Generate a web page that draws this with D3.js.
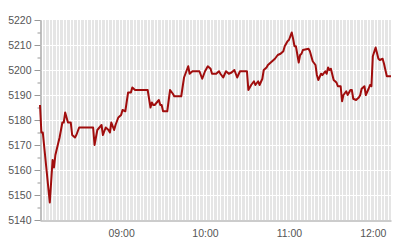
<!DOCTYPE html>
<html>
<head>
<meta charset="utf-8">
<script src="https://cdn.jsdelivr.net/npm/d3@7"></script>
<style>
    body { margin: 0; background: #fff; }
    .axis text { font-family: "Liberation Sans", Arial, sans-serif; font-size: 10.5px; fill: #555; }
    .axis path, .axis line { stroke: #999; }
</style>
</head>
<body>
<div id="main"></div>
<script>
const ctx = {
    SVG_W: 400,
    SVG_H: 240,
    LEFT: 40,
    RIGHT: 391,
    TOP: 20,
    BOTTOM: 220,
};

// index quote, intraday
const times = [
    "08:02", "08:03", "08:04", "08:09", "08:11", "08:12", "08:13", "08:16", "08:18", "08:19",
    "08:20", "08:22", "08:24", "08:25", "08:27", "08:28", "08:30", "08:40", "08:41", "08:42",
    "08:43", "08:46", "08:47", "08:49", "08:51", "08:52", "08:53", "08:55", "08:56", "08:58",
    "09:00", "09:01", "09:03", "09:05", "09:07", "09:08", "09:10", "09:19", "09:21", "09:22",
    "09:23", "09:24", "09:27", "09:28", "09:29", "09:30", "09:33", "09:35", "09:37", "09:38",
    "09:40", "09:43", "09:45", "09:48", "09:49", "09:51", "09:56", "09:58", "10:00", "10:02",
    "10:04", "10:05", "10:08", "10:10", "10:11", "10:13", "10:15", "10:17", "10:19", "10:21",
    "10:22", "10:23", "10:25", "10:30", "10:31", "10:33", "10:35", "10:36", "10:38", "10:39",
    "10:41", "10:42", "10:44", "10:45", "10:47", "10:49", "10:50", "10:52", "10:54", "10:56",
    "10:57", "10:59", "11:00", "11:02", "11:03", "11:04", "11:05", "11:07", "11:08", "11:09",
    "11:10", "11:14", "11:15", "11:17", "11:19", "11:20", "11:21", "11:23", "11:24", "11:26",
    "11:27", "11:28", "11:29", "11:30", "11:32", "11:34", "11:35", "11:37", "11:38", "11:39",
    "11:41", "11:42", "11:44", "11:45", "11:46", "11:48", "11:50", "11:51", "11:52", "11:54",
    "11:55", "11:57", "11:58", "11:59", "12:00", "12:02", "12:04", "12:05", "12:07", "12:08",
    "12:10", "12:13"
];
const values = [
    5186, 5175, 5175, 5147, 5164, 5161, 5166, 5173, 5179, 5179,
    5183, 5179, 5179, 5174, 5173, 5174, 5177, 5177, 5170, 5173,
    5176, 5178, 5174, 5177, 5176, 5175, 5179, 5176, 5178, 5181,
    5182, 5184, 5183.5, 5191, 5191, 5193, 5192, 5192, 5185, 5187,
    5186, 5186, 5188, 5186, 5186, 5183.5, 5183.5, 5192, 5190.5, 5189.5,
    5189.5, 5189.5, 5197, 5201.5, 5198.5, 5199.5, 5199.5, 5196.5, 5199.5, 5201.5,
    5200.5, 5198.5, 5198.5, 5199.5, 5198.5, 5197, 5199.5, 5198.5, 5199, 5200,
    5198.5, 5197, 5199.5, 5199.5, 5192, 5194, 5195.5, 5194, 5195.5, 5194,
    5196.5, 5200, 5201, 5202, 5203, 5204, 5204.5, 5206, 5206.5, 5207.5,
    5209.5, 5211.5, 5212, 5215, 5212.5, 5209.5, 5209.5, 5203, 5206, 5206.5,
    5208, 5208.5, 5207.5, 5203.5, 5202, 5198, 5196, 5198.5, 5198, 5199.5,
    5198.5, 5201, 5200, 5200.5, 5196, 5195, 5193.5, 5193.5, 5187.5, 5190,
    5191.5, 5190, 5192, 5192, 5188.5, 5188, 5189, 5190, 5192.5, 5193.5,
    5190, 5192.5, 5194, 5193.5, 5205.5, 5209, 5204.5, 5204, 5204.5, 5202.5,
    5197.5, 5197.5
];
const yMajor = [5140, 5150, 5160, 5170, 5180, 5190, 5200, 5210, 5220];
const yMinor = [5145, 5155, 5165, 5175, 5185, 5195, 5205, 5215];
const xTicks = ["09:00", "10:00", "11:00", "12:00"];
const xDomain = ["08:02", "12:13"];

function createViz() {
    const parse = d3.timeParse("%H:%M");
    let svgEl = d3.select("#main").append("svg")
        .attr("width", ctx.SVG_W)
        .attr("height", ctx.SVG_H);

    let x = d3.scaleTime()
        .domain(xDomain.map(parse))
        .range([ctx.LEFT, ctx.RIGHT]);
    let y = d3.scaleLinear()
        .domain([5140, 5220])
        .range([ctx.BOTTOM, ctx.TOP]);

    // plot background
    svgEl.append("rect")
        .attr("x", ctx.LEFT)
        .attr("y", ctx.TOP)
        .attr("width", ctx.RIGHT - ctx.LEFT)
        .attr("height", ctx.BOTTOM - ctx.TOP)
        .attr("fill", "#e5e5e5");

    // vertical grid, every 2.5 min
    let t0 = x.domain()[0], t1 = x.domain()[1];
    let vgrid = d3.range(+t0 + 75000, +t1, 150000).map(d => new Date(d));
    svgEl.append("g").selectAll("line")
        .data(vgrid)
        .enter()
        .append("line")
        .attr("x1", d => Math.round(x(d)) + 0.5)
        .attr("x2", d => Math.round(x(d)) + 0.5)
        .attr("y1", ctx.TOP)
        .attr("y2", ctx.BOTTOM)
        .attr("stroke", "#fff")
        .attr("stroke-width", 1);

    // horizontal grid
    svgEl.append("g").selectAll("line")
        .data(yMajor.slice(1, -1))
        .enter()
        .append("line")
        .attr("x1", ctx.LEFT)
        .attr("x2", ctx.RIGHT)
        .attr("y1", d => Math.round(y(d)) + 0.5)
        .attr("y2", d => Math.round(y(d)) + 0.5)
        .attr("stroke", "#fff")
        .attr("stroke-width", 1);

    // y axis
    svgEl.append("g")
        .attr("class", "axis")
        .attr("transform", "translate(" + (ctx.LEFT + 0.5) + ",0)")
        .call(d3.axisLeft(y).tickValues(yMajor).tickSize(6).tickPadding(3).tickSizeOuter(0)
            .tickFormat(d3.format("d")));
    svgEl.append("g")
        .attr("class", "axis")
        .attr("transform", "translate(" + (ctx.LEFT + 0.5) + ",0)")
        .call(d3.axisLeft(y).tickValues(yMinor).tickSize(3).tickFormat("").tickSizeOuter(0))
        .select(".domain").remove();

    // x axis
    let xAxis = svgEl.append("g")
        .attr("class", "axis")
        .attr("transform", "translate(0," + (ctx.BOTTOM + 0.5) + ")")
        .call(d3.axisBottom(x).tickValues(xTicks.map(parse)).tickSize(0).tickSizeOuter(0)
            .tickFormat(d3.timeFormat("%H:%M")));
    xAxis.selectAll("text").attr("dy", null).attr("y", 16.5);

    // price line
    let data = times.map((t, i) => ({ t: parse(t), v: values[i] }));
    let line = d3.line()
        .x(d => x(d.t))
        .y(d => y(d.v));
    svgEl.append("path")
        .datum(data)
        .attr("d", line)
        .attr("fill", "none")
        .attr("stroke", "#a00d0d")
        .attr("stroke-width", 2)
        .attr("stroke-linejoin", "round");
}

createViz();
</script>
</body>
</html>
